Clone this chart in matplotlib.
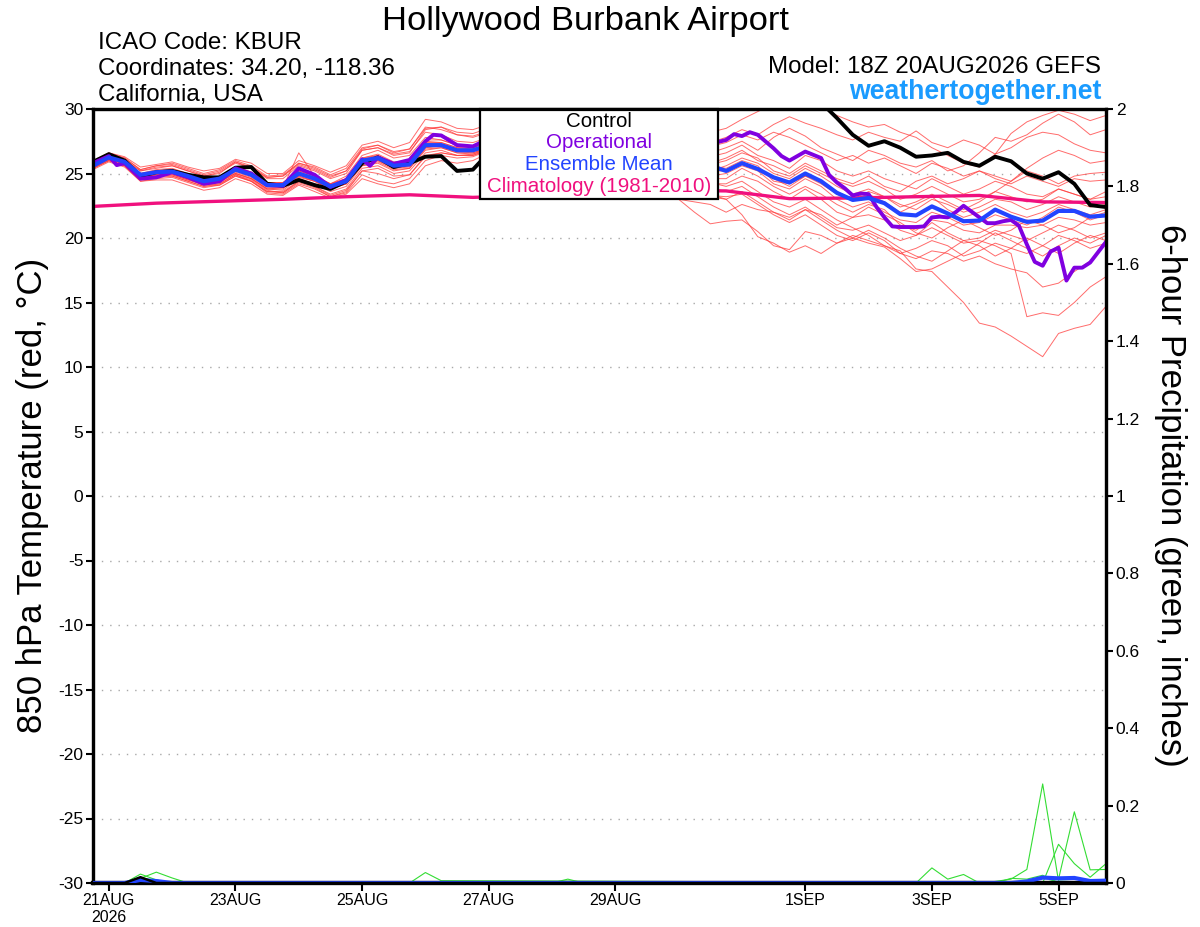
import numpy as np
import matplotlib
matplotlib.use('Agg')
import matplotlib.pyplot as plt
from matplotlib.patches import Rectangle

plt.rcParams['font.family'] = ['Liberation Sans', 'DejaVu Sans']
plt.rcParams['axes.unicode_minus'] = False

# forecast hours from 18Z 20AUG2026, every 6 hours
hours = list(range(0, 385, 6))

tick_hours = [6, 54, 102, 150, 198, 270, 318, 366]
tick_labels = ['21AUG\n2026', '23AUG', '25AUG', '27AUG', '29AUG', '1SEP', '3SEP', '5SEP']

# 850 hPa temperature (C)
control = [25.9, 26.5, 26.0, 24.8, 25.1, 25.2, 24.9, 24.7, 24.7, 25.45,
           25.5, 24.2, 24.05, 24.5, 24.1, 23.8, 24.4, 25.8, 26.25, 25.5,
           25.8, 26.3, 26.35, 25.2, 25.3, 26.6, 27.2, 27.0, 27.6, 28.3,
           28.5, 28.4, 29.0, 29.4, 29.2, 29.8, 30.2, 30.0, 30.6, 30.8,
           31.0, 30.8, 31.2, 31.0, 31.3, 31.0, 30.5, 29.3, 28.0, 27.15,
           27.5, 27.0, 26.3, 26.4, 26.6, 25.9, 25.6, 26.3, 25.95, 25.0,
           24.6, 25.1, 24.2, 22.55, 22.4]

ens_mean = [25.6, 26.25, 25.9, 24.9, 25.1, 25.15, 24.8, 24.4, 24.6, 25.3,
            24.9, 24.1, 24.1, 25.0, 24.6, 24.0, 24.4, 26.0, 26.2, 25.6,
            25.7, 27.2, 27.2, 26.8, 26.8, 27.2, 27.4, 27.0, 26.8, 27.3,
            27.5, 27.1, 26.8, 27.2, 27.0, 26.5, 26.2, 26.4, 26.0, 25.6,
            25.2, 25.8, 25.35, 24.7, 24.3, 25.0, 24.4, 23.5, 22.95, 23.1,
            22.7, 21.85, 21.75, 22.45, 21.9, 21.3, 21.35, 22.2, 21.65, 21.25,
            21.35, 22.1, 22.1, 21.65, 21.75]

op_hours = [0, 6, 9, 12, 18, 24, 30, 36, 42, 48, 54, 60, 66, 72, 78, 84, 90, 96,
            102, 105, 108, 114, 120, 126, 129, 132, 138, 144, 150, 156, 162, 168,
            174, 180, 186, 192, 198, 204, 210, 216, 222, 228, 234, 240, 243, 246,
            249, 252, 258, 261, 264, 270, 276, 279, 282, 285, 288, 291, 294, 297,
            300, 303, 306, 309, 312, 315, 318, 321, 324, 327, 330, 333, 336, 339,
            342, 345, 348, 351, 354, 357, 360, 363, 366, 369, 372, 375, 378, 381, 384]
op_temp = [25.8, 26.35, 25.65, 25.8, 24.6, 24.7, 25.1, 24.7, 24.2, 24.4,
           25.4, 25.0, 24.1, 24.05, 25.4, 24.9, 23.95, 24.5, 26.1, 25.6,
           26.25, 25.75, 26.05, 27.5, 28.0, 27.95, 27.2, 27.1, 27.7, 27.9,
           27.4, 27.0, 27.6, 28.0, 27.5, 27.2, 27.8, 28.2, 27.6, 27.3,
           27.0, 27.1, 27.3, 27.6, 28.05, 27.9, 28.2, 28.0, 26.95, 26.35,
           26.0, 26.7, 26.2, 24.9, 24.3, 23.85, 23.3, 23.45, 23.4, 22.4,
           21.6, 20.9, 20.85, 20.85, 20.85, 20.9, 21.6, 21.65, 21.6, 22.0,
           22.5, 22.05, 21.6, 21.15, 21.15, 21.3, 21.4, 20.95, 19.5, 18.15,
           17.85, 18.95, 19.25, 16.7, 17.7, 17.7, 18.1, 18.9, 19.7]

clim_hours = list(range(0, 385, 24))
clim_temp = [22.45, 22.7, 22.85, 23.0, 23.2, 23.35, 23.15, 23.3, 23.5,
             23.7, 23.65, 23.05, 23.1, 23.2, 23.3, 22.8, 22.75]

m01 = [25.9, 26.6, 26.3, 25.5, 25.7, 25.9, 25.5, 25.2, 25.4, 26.1, 25.8, 25.0, 25.0, 26.0, 25.6, 25.1, 25.6, 27.2, 27.5, 27.0,
       27.4, 29.2, 29.0, 28.5, 28.4, 28.8, 29.0, 28.6, 28.4, 28.9, 29.1, 28.7, 28.4, 28.8, 28.6, 28.2, 28.0, 28.4, 28.0, 28.2,
       28.5, 29.2, 29.8, 30.4, 30.8, 30.5, 30.2, 29.5, 29.0, 28.6, 28.8, 28.2, 27.8, 27.0, 26.4, 25.8, 25.5, 26.5, 28.1, 29.0,
       29.5, 29.9, 29.6, 29.1, 29.5]
m02 = [25.7, 26.4, 26.0, 25.2, 25.4, 25.6, 25.2, 24.8, 25.0, 25.9, 25.4, 24.6, 24.6, 25.6, 25.2, 24.6, 25.0, 26.8, 27.0, 26.4,
       26.6, 28.4, 28.6, 28.0, 27.8, 28.2, 28.4, 28.0, 27.8, 28.3, 28.5, 28.1, 27.8, 28.2, 28.0, 27.5, 27.4, 27.8, 27.4, 27.4,
       27.8, 28.4, 28.0, 28.8, 29.4, 28.9, 28.5, 28.0, 27.6, 28.2, 27.8, 27.5, 28.3, 27.4, 27.0, 27.6, 27.2, 26.5, 27.0, 27.8,
       28.2, 28.0, 27.3, 26.8, 26.6]
m03 = [25.5, 26.1, 25.7, 24.6, 24.9, 25.0, 24.6, 24.2, 24.4, 25.0, 24.6, 23.8, 23.9, 24.7, 24.4, 23.8, 24.2, 25.6, 25.8, 25.2,
       25.4, 26.8, 27.0, 26.6, 26.6, 27.0, 27.2, 26.8, 26.6, 27.1, 27.3, 26.9, 26.6, 27.0, 26.8, 26.4, 26.2, 26.6, 26.4, 26.6,
       27.0, 27.5, 26.8, 27.8, 28.5, 27.9, 27.0, 26.5, 26.0, 26.8, 26.4, 25.8, 25.5, 26.0, 25.2, 25.6, 26.6, 27.8, 27.5, 28.0,
       28.9, 29.6, 29.0, 28.0, 28.4]
m04 = [25.4, 26.0, 25.6, 24.4, 24.6, 24.7, 24.3, 23.9, 24.1, 24.8, 24.4, 23.6, 23.6, 24.4, 24.0, 23.4, 23.8, 25.4, 25.6, 25.0,
       25.2, 26.6, 26.8, 26.4, 26.4, 26.8, 27.0, 26.6, 26.4, 26.9, 27.1, 26.7, 26.4, 26.8, 26.6, 26.1, 25.8, 26.2, 25.8, 25.8,
       26.2, 26.8, 26.0, 25.6, 25.0, 25.8, 25.2, 24.6, 24.2, 24.8, 24.0, 23.6, 24.4, 24.8, 24.2, 24.6, 25.2, 24.8, 24.4, 25.2,
       24.8, 24.2, 24.8, 25.0, 25.1]
m05 = [25.8, 26.4, 26.1, 25.2, 25.5, 25.6, 25.2, 24.8, 25.1, 25.8, 25.4, 24.7, 24.8, 25.8, 25.4, 24.8, 25.2, 26.8, 27.0, 26.5,
       26.7, 28.2, 28.0, 27.5, 27.4, 27.8, 28.0, 27.6, 27.3, 27.8, 27.9, 27.4, 27.0, 27.3, 27.0, 26.4, 26.0, 26.2, 25.7, 25.2,
       25.6, 26.2, 25.8, 25.0, 24.6, 25.4, 24.8, 24.0, 23.4, 23.8, 23.2, 22.6, 22.2, 23.0, 22.6, 22.0, 22.4, 23.0, 22.8, 22.2,
       22.6, 23.2, 22.8, 22.4, 22.6]
m06 = [25.6, 26.2, 25.8, 24.8, 25.0, 25.0, 24.6, 24.2, 24.4, 25.2, 24.8, 24.0, 23.9, 26.6, 24.8, 24.2, 24.8, 26.4, 26.8, 26.2,
       26.4, 27.8, 27.6, 27.2, 27.0, 27.4, 27.6, 27.2, 26.8, 27.2, 27.3, 26.8, 26.4, 26.6, 26.2, 25.8, 25.4, 25.6, 25.2, 24.8,
       25.0, 25.6, 25.2, 24.2, 23.8, 24.6, 24.0, 23.0, 22.4, 22.8, 22.0, 21.4, 21.2, 22.0, 21.6, 21.0, 21.2, 21.8, 21.4, 21.0,
       21.6, 22.4, 22.0, 21.4, 21.8]
m07 = [25.5, 26.3, 26.0, 25.0, 25.3, 25.4, 25.0, 24.5, 24.8, 25.5, 25.1, 24.3, 24.3, 25.2, 24.8, 24.2, 24.6, 26.2, 26.4, 25.8,
       25.9, 27.4, 27.4, 27.0, 27.0, 27.4, 27.6, 27.2, 26.9, 27.3, 27.4, 26.9, 26.5, 26.8, 26.5, 25.9, 25.5, 25.6, 25.0, 24.6,
       24.6, 25.4, 24.8, 24.0, 23.4, 24.0, 23.4, 22.6, 22.0, 22.6, 22.2, 21.0, 20.6, 21.4, 21.2, 20.6, 20.4, 21.0, 21.0, 20.8,
       21.0, 21.6, 21.4, 21.0, 21.2]
m08 = [25.7, 26.2, 25.7, 24.6, 24.8, 24.9, 24.5, 24.1, 24.3, 25.0, 24.6, 23.8, 23.7, 24.6, 24.2, 23.6, 24.0, 25.6, 25.9, 25.3,
       25.4, 26.9, 27.0, 26.6, 26.5, 26.9, 27.1, 26.6, 26.3, 26.7, 26.8, 26.3, 25.9, 26.2, 25.9, 25.3, 25.0, 25.1, 24.6, 24.2,
       24.2, 24.8, 24.4, 23.6, 23.0, 23.8, 23.0, 22.0, 21.6, 21.8, 21.4, 20.6, 20.2, 21.2, 20.4, 19.8, 20.0, 20.6, 20.2, 19.8,
       20.4, 21.0, 20.6, 20.0, 20.4]
m09 = [25.6, 26.3, 25.9, 25.0, 25.2, 25.3, 24.9, 24.5, 24.7, 25.4, 25.0, 24.2, 24.2, 25.1, 24.7, 24.1, 24.5, 26.1, 26.4, 25.8,
       25.9, 27.5, 27.4, 27.0, 26.9, 27.3, 27.5, 27.0, 26.7, 27.1, 27.2, 26.7, 26.3, 26.5, 26.2, 25.6, 25.2, 25.3, 24.8, 24.3,
       24.0, 24.4, 23.6, 22.8, 22.4, 23.0, 22.2, 21.4, 20.8, 20.2, 19.4, 19.0, 17.6, 17.4, 16.2, 15.0, 13.4, 13.1, 12.4, 11.6,
       10.8, 12.6, 13.0, 13.3, 14.7]
m10 = [25.5, 26.1, 25.8, 24.8, 25.0, 25.1, 24.7, 24.3, 24.5, 25.2, 24.8, 24.0, 24.0, 24.9, 24.5, 23.9, 24.3, 25.9, 26.1, 25.5,
       25.6, 27.1, 27.1, 26.7, 26.6, 27.0, 27.2, 26.7, 26.4, 26.8, 26.9, 26.4, 26.0, 26.2, 25.8, 25.2, 24.8, 24.9, 24.4, 23.9,
       23.6, 24.0, 23.2, 22.4, 21.8, 22.4, 21.6, 20.8, 20.6, 21.0, 20.4, 19.8, 20.2, 20.8, 20.2, 19.6, 19.8, 19.4, 18.8, 13.9,
       14.2, 14.0, 15.0, 16.2, 17.0]
m11 = [25.9, 26.5, 26.0, 24.9, 25.0, 25.0, 24.6, 24.1, 24.2, 24.9, 24.4, 23.5, 23.4, 24.2, 23.8, 23.2, 23.6, 25.2, 25.4, 24.8,
       24.9, 26.4, 26.6, 26.4, 26.5, 27.0, 27.2, 26.8, 26.5, 26.9, 27.0, 26.4, 25.8, 25.9, 25.4, 24.8, 24.3, 24.2, 23.6, 23.3,
       23.2, 23.4, 22.6, 21.8, 21.2, 21.8, 21.0, 20.2, 19.8, 20.4, 19.8, 18.8, 18.4, 19.0, 18.8, 18.2, 18.6, 18.0, 17.6, 17.3,
       16.2, 16.5, 17.4, 18.2, 19.7]
m12 = [25.3, 25.9, 25.5, 24.4, 24.5, 24.5, 24.1, 23.7, 23.9, 24.6, 24.2, 23.4, 23.3, 24.1, 23.6, 23.1, 23.4, 24.6, 24.2, 23.9,
       24.2, 25.6, 26.0, 25.8, 26.0, 26.6, 26.9, 26.5, 26.3, 26.8, 26.9, 26.4, 25.8, 25.6, 25.0, 24.2, 23.6, 23.0, 22.0, 21.1,
       21.3, 21.4, 20.5, 19.4, 19.1, 20.5, 20.2, 19.6, 20.0, 20.6, 20.0, 19.2, 18.6, 18.2, 19.0, 19.8, 19.4, 18.6, 19.2, 20.0,
       19.4, 18.8, 19.6, 20.2, 19.8]
m13 = [25.7, 26.2, 25.8, 24.7, 24.9, 24.8, 24.4, 24.0, 24.2, 24.9, 24.5, 23.7, 23.5, 24.3, 23.9, 23.2, 23.5, 24.9, 24.4, 24.2,
       24.6, 26.0, 26.4, 26.2, 26.3, 26.8, 27.0, 26.6, 26.4, 26.7, 26.8, 26.2, 25.6, 25.4, 24.8, 24.0, 23.6, 23.0, 22.8, 22.6,
       22.0, 22.6, 22.2, 22.0, 21.4, 22.2, 21.8, 21.0, 21.6, 22.4, 21.8, 21.2, 20.4, 20.0, 20.8, 21.4, 20.8, 20.2, 20.6, 21.4,
       21.0, 20.4, 20.8, 21.6, 22.0]
m14 = [26.0, 26.6, 26.2, 25.3, 25.6, 25.8, 25.4, 25.0, 25.3, 26.0, 25.6, 24.8, 24.9, 25.8, 25.5, 24.9, 25.4, 27.0, 27.2, 26.6,
       26.9, 28.6, 28.4, 28.0, 27.9, 28.3, 28.5, 28.1, 27.9, 28.3, 28.4, 28.0, 27.7, 28.0, 27.8, 27.2, 26.9, 27.1, 26.6, 26.3,
       26.6, 27.2, 26.4, 26.0, 25.4, 26.4, 26.0, 25.2, 24.8, 25.2, 24.6, 24.2, 23.8, 24.6, 24.0, 23.4, 23.8, 24.4, 24.0, 23.4,
       23.2, 23.8, 23.4, 23.0, 23.2]
m15 = [25.4, 26.0, 25.6, 24.5, 24.8, 24.9, 24.5, 24.2, 24.4, 25.0, 24.6, 23.8, 23.8, 24.8, 24.4, 23.8, 24.2, 25.8, 26.0, 25.4,
       25.5, 27.0, 27.1, 26.8, 26.8, 27.3, 27.6, 27.2, 27.0, 27.5, 27.7, 27.3, 27.0, 27.4, 27.1, 26.6, 26.3, 26.5, 26.0, 25.6,
       25.4, 26.0, 25.6, 24.4, 24.2, 24.8, 24.4, 23.6, 23.0, 23.4, 22.8, 22.0, 22.6, 23.2, 22.2, 21.6, 22.0, 22.6, 22.0, 21.6,
       22.0, 22.6, 22.2, 21.8, 22.2]
m16 = [25.6, 26.2, 25.9, 24.9, 25.1, 25.2, 24.8, 24.4, 24.6, 25.4, 25.0, 24.2, 24.2, 25.0, 24.6, 24.0, 24.4, 26.0, 26.2, 25.6,
       25.7, 27.2, 27.3, 26.9, 26.8, 27.1, 27.2, 26.7, 26.3, 26.6, 26.6, 26.0, 25.5, 25.6, 25.2, 24.6, 24.2, 24.2, 23.7, 23.4,
       23.0, 23.6, 22.8, 22.0, 21.6, 22.2, 21.4, 20.6, 20.0, 19.6, 19.3, 18.4, 17.4, 17.6, 18.2, 18.8, 19.6, 20.4, 19.8, 19.2,
       18.6, 19.4, 20.0, 19.6, 20.2]
m17 = [25.8, 26.5, 26.2, 25.3, 25.6, 25.7, 25.3, 24.9, 25.2, 25.9, 25.5, 24.7, 24.8, 25.7, 25.3, 24.7, 25.2, 26.9, 27.2, 26.7,
       26.9, 28.5, 28.6, 28.2, 28.1, 28.5, 28.8, 28.4, 28.2, 28.6, 28.8, 28.4, 28.1, 28.4, 28.2, 27.7, 27.5, 27.7, 27.3, 27.1,
       27.4, 28.0, 27.6, 28.2, 27.8, 27.2, 26.6, 26.0, 26.4, 25.8, 26.2, 25.6, 25.0, 25.8, 25.4, 24.8, 25.2, 24.6, 24.2, 24.8,
       24.4, 24.0, 24.6, 24.4, 24.5]
m18 = [25.5, 26.1, 25.7, 24.7, 24.9, 25.0, 24.6, 24.2, 24.4, 25.1, 24.7, 23.9, 23.9, 24.8, 24.4, 23.8, 24.2, 25.8, 26.0, 25.4,
       25.6, 27.0, 27.2, 26.9, 26.9, 27.3, 27.5, 27.1, 26.9, 27.4, 27.6, 27.2, 26.9, 27.2, 27.0, 26.5, 26.2, 26.4, 26.0, 25.7,
       26.0, 26.6, 26.2, 25.2, 24.8, 25.6, 25.0, 24.4, 24.0, 24.4, 23.8, 23.0, 23.4, 24.0, 23.4, 22.8, 23.0, 23.6, 23.2, 22.8,
       23.0, 23.8, 23.4, 23.0, 23.6]
m19 = [25.7, 26.3, 25.9, 24.9, 25.2, 25.3, 25.0, 24.6, 24.8, 25.5, 25.1, 24.3, 24.3, 25.2, 24.8, 24.2, 24.6, 26.2, 26.5, 25.9,
       26.0, 27.6, 27.6, 27.2, 27.1, 27.5, 27.7, 27.3, 27.0, 27.4, 27.5, 27.1, 26.7, 27.0, 26.7, 26.2, 25.8, 25.9, 25.5, 25.2,
       25.2, 25.8, 25.4, 24.6, 24.0, 24.8, 24.2, 23.4, 23.0, 23.6, 23.2, 22.4, 22.8, 23.4, 22.8, 22.2, 22.8, 23.6, 24.4, 25.4,
       26.2, 26.8, 26.4, 25.8, 26.0]
m20 = [25.4, 26.0, 25.6, 24.6, 24.7, 24.8, 24.4, 24.0, 24.1, 24.8, 24.4, 23.6, 23.5, 24.4, 24.0, 23.3, 23.7, 25.2, 25.0, 24.6,
       24.9, 26.3, 26.6, 26.4, 26.4, 26.9, 27.1, 26.8, 26.6, 27.0, 27.0, 26.5, 25.9, 25.8, 25.2, 24.5, 24.0, 23.6, 23.4, 23.2,
       23.0, 21.8, 20.1, 19.6, 18.9, 19.4, 18.8, 19.6, 20.2, 19.8, 19.4, 18.8, 19.2, 19.8, 19.4, 18.6, 19.0, 19.6, 19.2, 18.8,
       19.4, 20.2, 19.8, 19.2, 19.6]
members = [m01, m02, m03, m04, m05, m06, m07, m08, m09, m10,
           m11, m12, m13, m14, m15, m16, m17, m18, m19, m20]

# 6-hour precipitation (inches), members with measurable amounts
wet_a_h = [0, 12, 18, 24, 30, 312, 318, 324, 330, 336, 384]
wet_a_p = [0, 0, 0.023, 0.008, 0, 0, 0.039, 0.01, 0.022, 0, 0]
wet_b_h = [0, 12, 18, 24, 30, 36, 120, 126, 132, 384]
wet_b_p = [0, 0, 0.012, 0.028, 0.013, 0, 0, 0.027, 0.006, 0]
wet_c_h = [0, 336, 342, 348, 354, 360, 366, 384]
wet_c_p = [0, 0, 0.004, 0.01, 0.035, 0.256, 0.005, 0]
wet_d_h = [0, 354, 360, 366, 372, 378, 384]
wet_d_p = [0, 0, 0, 0.10, 0.05, 0.015, 0.05]
wet_e_h = [0, 360, 366, 372, 378, 384]
wet_e_p = [0, 0, 0.01, 0.184, 0.034, 0.035]
wet_f_h = [0, 150, 156, 162, 174, 180, 186, 342, 348, 354, 360, 366, 384]
wet_f_p = [0, 0, 0.004, 0, 0, 0.01, 0, 0, 0.012, 0.01, 0.02, 0, 0]
mean_p_h = [0, 12, 18, 24, 30, 348, 354, 360, 366, 372, 378, 384]
mean_p = [0, 0, 0.008, 0.005, 0, 0, 0.004, 0.014, 0.012, 0.013, 0.005, 0.006]
ctrl_p_h = [0, 12, 18, 24, 384]
ctrl_p = [0, 0, 0.015, 0, 0]

RED = '#FF3A3A'
PURPLE = '#8000E0'
BLUE = '#2244FF'
PINK = '#F0107E'
GREEN = '#33DD33'

fig = plt.figure(figsize=(12, 9.27), dpi=100)
ax = fig.add_axes([93/1200, 44/927, 1013/1200, 774/927])

for m in members:
    ax.plot(hours, m, color=RED, lw=0.7, alpha=0.75, zorder=2)
ax.plot(clim_hours, clim_temp, color=PINK, lw=2.4, zorder=3)
ax.plot(hours, control, color='black', lw=2.8, zorder=4)
ax.plot(op_hours, op_temp, color=PURPLE, lw=2.8, zorder=5)
ax.plot(hours, ens_mean, color=BLUE, lw=3.0, zorder=6)

ax.set_xlim(0, 384)
ax.set_ylim(-30, 30)
ax.set_yticks(range(-30, 31, 5))
ax.set_xticks(tick_hours)
ax.set_xticklabels(tick_labels)
ax.yaxis.grid(True, color='#A8A8A8', linestyle=(0, (1, 5)), linewidth=1.0)
ax.tick_params(axis='y', direction='out', length=5, width=1.5, labelsize=12.5, pad=2)
ax.tick_params(axis='x', direction='out', length=6, width=1.5, labelsize=11.5, pad=1)

ax2 = ax.twinx()
for h, p in [(wet_a_h, wet_a_p), (wet_b_h, wet_b_p), (wet_c_h, wet_c_p),
             (wet_d_h, wet_d_p), (wet_e_h, wet_e_p), (wet_f_h, wet_f_p)]:
    ax2.plot(h, p, color=GREEN, lw=0.8, zorder=2)
ax2.plot(mean_p_h, mean_p, color=BLUE, lw=3.0, zorder=3)
ax2.plot(ctrl_p_h, ctrl_p, color='black', lw=1.8, zorder=3)
ax2.set_ylim(0, 2)
ax2.set_xlim(0, 384)
ax2.set_yticks(np.arange(0, 2.01, 0.2))
ax2.set_yticklabels(['0', '0.2', '0.4', '0.6', '0.8', '1', '1.2', '1.4', '1.6', '1.8', '2'])
ax2.tick_params(axis='y', direction='out', length=5, width=1.5, labelsize=12.5, pad=2)

for a in (ax, ax2):
    for s in a.spines.values():
        s.set_linewidth(2.3)
    a.spines['bottom'].set_linewidth(3.0)

# legend box
ax.add_patch(Rectangle((387/1013, (883-199)/774), 238/1013, 90/774, transform=ax.transAxes,
                       facecolor='white', edgecolor='black', lw=1.6, zorder=10, clip_on=False))
leg_x = (599-93)/1013
for label, col, yb in [('Control', 'black', 127), ('Operational', PURPLE, 148),
                       ('Ensemble Mean', BLUE, 170), ('Climatology (1981-2010)', PINK, 191.5)]:
    ax.text(leg_x, (883-yb)/774, label, color=col, fontsize=14.8, ha='center',
            va='baseline', transform=ax.transAxes, zorder=11)

# header texts
fig.text(585/1200, 1-30/927, 'Hollywood Burbank Airport', fontsize=24.8, ha='center', va='baseline')
fig.text(98/1200, 1-49/927, 'ICAO Code: KBUR', fontsize=17.4, ha='left', va='baseline')
fig.text(98/1200, 1-75/927, 'Coordinates: 34.20, -118.36', fontsize=17.4, ha='left', va='baseline')
fig.text(98/1200, 1-101/927, 'California, USA', fontsize=17.4, ha='left', va='baseline')
fig.text(1101/1200, 1-73/927, 'Model: 18Z 20AUG2026 GEFS', fontsize=17.4, ha='right', va='baseline')
fig.text(1101/1200, 1-99/927, 'weathertogether.net', fontsize=19.2, fontweight='bold',
         color='#1A9BFF', ha='right', va='baseline')

fig.text(33/1200, 1-495/927, '850 hPa Temperature (red, °C)', fontsize=25, rotation=90,
         ha='center', va='center')
fig.text(1170/1200, 1-495/927, '6-hour Precipitation (green, inches)', fontsize=25, rotation=270,
         ha='center', va='center')

fig.savefig('out.png', dpi=100)
